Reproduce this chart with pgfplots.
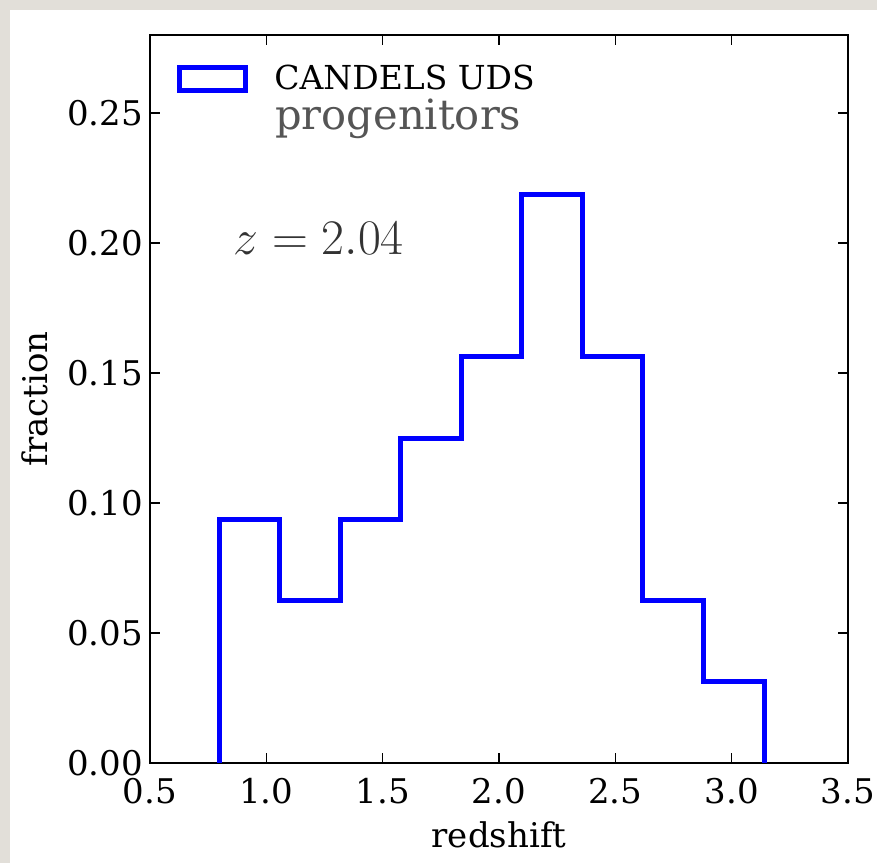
\documentclass[border=0pt]{standalone}
\usepackage{fontspec}
\setmainfont{DejaVu Serif}
\usepackage{pgfplots}
\pgfplotsset{compat=1.18}
\definecolor{bgpanel}{RGB}{226,223,217}
\definecolor{progray}{RGB}{85,85,85}
\begin{document}
\begin{tikzpicture}
\path[use as bounding box, fill=bgpanel] (0pt,0pt) rectangle (438.5pt,-431.5pt);
\fill[white] (5pt,-5pt) rectangle (438.5pt,-431.5pt);
\begin{axis}[
  at={(75pt,-381.5pt)}, anchor=south west,
  scale only axis, width=349pt, height=364pt,
  xmin=0.5, xmax=3.5, ymin=0, ymax=0.28,
  xtick={0.5,1.0,1.5,2.0,2.5,3.0,3.5},
  ytick={0,0.05,0.10,0.15,0.20,0.25},
  tick align=inside, major tick length=5pt,
  every tick/.style={black, line width=0.8pt},
  axis line style={line width=1.4pt},
  tick label style={font=\fontsize{17}{20}\selectfont},
  /pgf/number format/assume math mode=true,
  xticklabel style={yshift=-4pt, /pgf/number format/.cd, fixed, fixed zerofill, precision=1},
  yticklabel style={/pgf/number format/.cd, fixed, fixed zerofill, precision=2},
  scaled y ticks=false,
  xlabel={redshift}, ylabel={fraction},
  every axis x label/.style={at={(axis description cs:0.5,-0.1154)}, anchor=base, font=\fontsize{17}{20}\selectfont},
  every axis y label/.style={at={(axis description cs:-0.165,0.5)}, rotate=90, anchor=center, font=\fontsize{17}{20}\selectfont},
  legend style={at={(axis cs:0.616,0.263)}, anchor=west, draw=none, fill=none,
    inner sep=0pt, font=\fontsize{16.5}{19}\selectfont, column sep=0pt,
    nodes={inner sep=0pt}},
  legend cell align=left,
]
\addplot[const plot mark left, blue, line width=2.5pt, line join=miter,
  legend image code/.code={\draw[blue, line width=2.5pt] (0pt,-5.75pt) rectangle (33pt,5.75pt); \path (46pt,0pt);}]
  coordinates {
  (0.797,0) (0.797,0.09375) (1.057,0.0625) (1.317,0.09375) (1.578,0.125)
  (1.838,0.15625) (2.098,0.21875) (2.358,0.15625) (2.618,0.0625) (2.879,0.03125) (3.139,0)
  };
\addlegendentry{CANDELS UDS}
\node[anchor=base west, inner sep=0pt, text=progray, font=\fontsize{20.8}{24}\selectfont] at (axis cs:1.037,0.2435) {progenitors};
\node[anchor=base west, inner sep=0pt, text=black!80, font=\fontsize{23.3}{28}\selectfont] at (axis cs:0.857,0.1954) {$z = 2.04$};
\end{axis}
\end{tikzpicture}
\end{document}
